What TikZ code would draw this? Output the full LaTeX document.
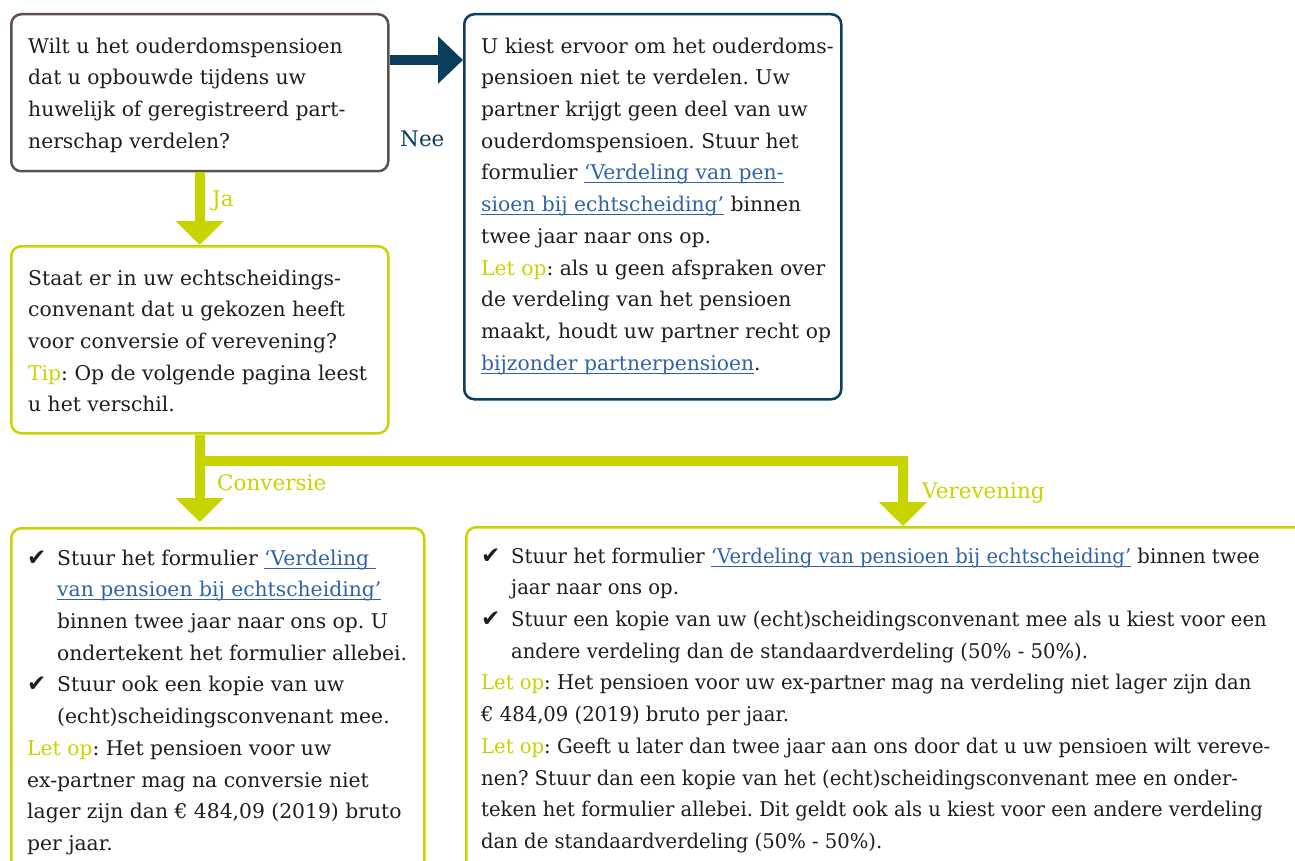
\documentclass[tikz,border=0pt]{standalone}
\usepackage{fontspec}
\setmainfont{DejaVu Serif}
\newfontfamily\condf[FakeStretch=0.965]{DejaVu Serif}
\newfontfamily\symf{DejaVu Sans}
\usetikzlibrary{arrows.meta}
\definecolor{dblue}{HTML}{0B3D5C}
\definecolor{yg}{HTML}{C8D400}
\definecolor{gbr}{HTML}{5C524B}
\definecolor{lnkc}{HTML}{2F62A8}
\definecolor{txt}{HTML}{1D1D1B}
\newsavebox\lnkbox
\newcommand\lnk[1]{\sbox\lnkbox{\color{lnkc}#1}\makebox[0pt][l]{\color{lnkc}\rule[-3.5pt]{\wd\lnkbox}{1.1pt}}\usebox\lnkbox}
\newcommand\ck{\makebox[30pt][l]{\symf\fontsize{23}{25}\selectfont ✔}}
\newcommand\ind{\hspace*{30pt}}
\newcommand\lo{\textcolor{yg}{Let op}}
\tikzset{
  box/.style={rectangle, rounded corners=10pt, line width=2.5pt, anchor=north west, inner sep=0pt},
  txtn/.style={anchor=north west, inner sep=0pt, align=left, text=txt, font=\fontsize{20.3}{31.7}\selectfont\frenchspacing},
  lbl/.style={anchor=base west, inner sep=0pt, font=\fontsize{21.5}{25}\selectfont},
  yarrow/.style={draw=yg, line width=10pt, -{Triangle[width=47pt,length=24pt]}},
  barrow/.style={draw=dblue, line width=10pt, -{Triangle[width=46pt,length=25pt]}}
}
\begin{document}
\begin{tikzpicture}[x=1pt,y=-1pt]
\useasboundingbox (0,0) rectangle (1295,861);
\clip (0,0) rectangle (1295,861);
% boxes
\node[box, draw=gbr, minimum width=377pt, minimum height=157pt] (b1) at (10,13) {};
\node[box, draw=dblue, minimum width=377pt, minimum height=385pt] (b2) at (463,13) {};
\node[box, draw=yg, minimum width=377pt, minimum height=187pt] (b3) at (10,245) {};
\node[box, draw=yg, minimum width=413pt, minimum height=400pt] (b4) at (10,527) {};
\node[box, draw=yg, minimum width=900pt, minimum height=400pt] (b5) at (465,526) {};
% texts
\node[txtn] (t1) at (28,30.8) {\strut Wilt u het ouderdomspensioen\\
dat u opbouwde tijdens uw\\
huwelijk of geregistreerd part-\\
nerschap verdelen?};
\node[txtn] (t2) at (481,30.8) {\strut U kiest ervoor om het ouderdoms-\\
pensioen niet te verdelen. Uw\\
partner krijgt geen deel van uw\\
ouderdomspensioen. Stuur het\\
formulier \lnk{‘Verdeling van pen-}\\
\lnk{sioen bij echtscheiding’} binnen\\
twee jaar naar ons op.\\
\lo: als u geen afspraken over\\
de verdeling van het pensioen\\
maakt, houdt uw partner recht op\\
\lnk{bijzonder partnerpensioen}.};
\node[txtn] (t3) at (28,262.8) {\strut Staat er in uw echtscheidings-\\
convenant dat u gekozen heeft\\
voor conversie of verevening?\\
\textcolor{yg}{Tip}: Op de volgende pagina leest\\
u het verschil.};
\node[txtn] (t4) at (27,542.8) {\strut\ck Stuur het formulier \lnk{‘Verdeling\ }\\
\ind\lnk{van pensioen bij echtscheiding’}\\
\ind binnen twee jaar naar ons op. U\\
\ind ondertekent het formulier allebei.\\
\ck Stuur ook een kopie van uw\\
\ind (echt)scheidingsconvenant mee.\\
\lo: Het pensioen voor uw\\
ex-partner mag na conversie niet\\
lager zijn dan € 484,09 (2019) bruto\\
per jaar.};
\node[txtn, font=\condf\fontsize{20.3}{31.7}\selectfont\frenchspacing] (t5) at (481,540.8) {\strut\ck Stuur het formulier \lnk{‘Verdeling van pensioen bij echtscheiding’} binnen twee\\
\ind jaar naar ons op.\\
\ck Stuur een kopie van uw (echt)scheidingsconvenant mee als u kiest voor een\\
\ind andere verdeling dan de standaardverdeling (50\% - 50\%).\\
\lo: Het pensioen voor uw ex-partner mag na verdeling niet lager zijn dan\\
€ 484,09 (2019) bruto per jaar.\\
\lo: Geeft u later dan twee jaar aan ons door dat u uw pensioen wilt vereve-\\
nen? Stuur dan een kopie van het (echt)scheidingsconvenant mee en onder-\\
teken het formulier allebei. Dit geldt ook als u kiest voor een andere verdeling\\
dan de standaardverdeling (50\% - 50\%).};
% connectors
\draw[barrow] ([yshift=-47pt]b1.north east) -- ([yshift=-47pt]b2.north west);
\draw[yarrow] (b1.south) -- (b3.north);
\draw[yarrow, shorten >=5pt] (b3.south) -- (b3.south |- b4.north);
\coordinate (br) at ([yshift=-26.5pt]b3.south);
\coordinate (vt) at (903,526);
\draw[yarrow] (br) -| (vt);
% labels
\node[lbl, text=dblue] (lnee) at (400,147) {Nee};
\node[lbl, text=yg] (lja) at (212,207) {Ja};
\node[lbl, text=yg] (lconv) at (217,490) {Conversie};
\node[lbl, text=yg] (lver) at (922,498) {Verevening};
\end{tikzpicture}
\end{document}
